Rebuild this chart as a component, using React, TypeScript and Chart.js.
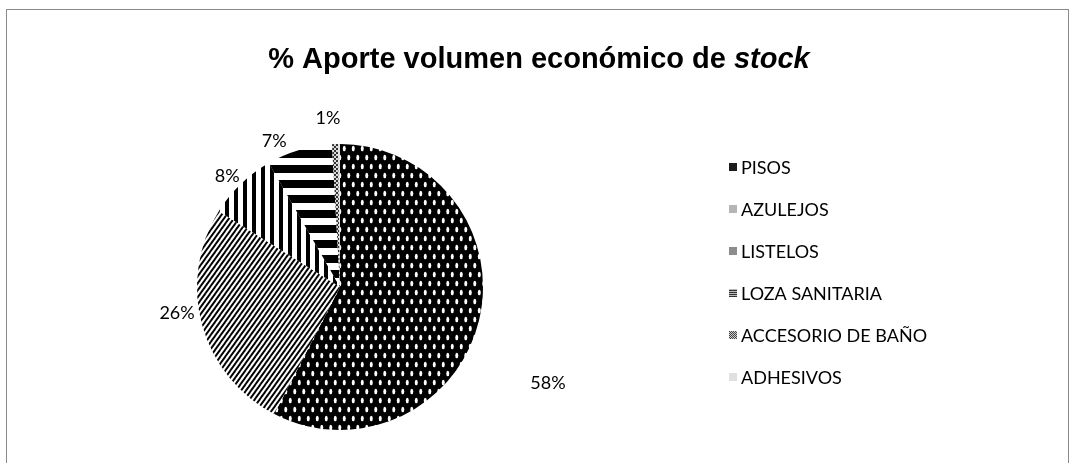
import React, { useEffect, useRef } from "react";
import { Chart, registerables } from "chart.js";

Chart.register(...registerables);

const TITLE_MAIN = "% Aporte volumen económico de ";
const TITLE_ITALIC = "stock";
const categories = ["PISOS", "AZULEJOS", "LISTELOS", "LOZA SANITARIA", "ACCESORIO DE BAÑO", "ADHESIVOS"];
const shares = [57.6, 26.3, 7.8, 7.4, 0.7, 0.2];

// label placement tweaks (extra radial distance px, angular shift deg)
const LABEL_EXTRA = [86, 22, 15, 17, 26, 20];
const LABEL_SHIFT = [11.1, 6.2, -1.6, -7.7, -2.1, 0];

const LABEL_FONT = '18px "Lato", "Liberation Sans", sans-serif';

function makePattern(w: number, h: number, draw: (c: CanvasRenderingContext2D) => void) {
  const cv = document.createElement("canvas");
  cv.width = w;
  cv.height = h;
  const c = cv.getContext("2d")!;
  draw(c);
  return c.createPattern(cv, "repeat")!;
}

function buildFills() {
  const dots = makePattern(9, 18, (c) => {
    c.fillStyle = "#000";
    c.fillRect(0, 0, 9, 18);
    c.fillStyle = "#fff";
    c.beginPath();
    c.ellipse(2.25, 4.5, 1.5, 2.8, 0, 0, Math.PI * 2);
    c.fill();
    c.beginPath();
    c.ellipse(6.75, 13.5, 1.5, 2.8, 0, 0, Math.PI * 2);
    c.fill();
  });
  const diag = makePattern(5, 7, (c) => {
    c.fillStyle = "#fff";
    c.fillRect(0, 0, 5, 7);
    c.strokeStyle = "#000";
    c.lineWidth = 1.9;
    for (const k of [-5, 0, 5]) {
      c.beginPath();
      c.moveTo(k - 1, 8.4);
      c.lineTo(k + 6, -1.4);
      c.stroke();
    }
  });
  const vert = makePattern(9, 4, (c) => {
    c.fillStyle = "#fff";
    c.fillRect(0, 0, 9, 4);
    c.fillStyle = "#000";
    c.fillRect(0, 0, 4, 4);
  });
  const horiz = makePattern(4, 15, (c) => {
    c.fillStyle = "#fff";
    c.fillRect(0, 0, 4, 15);
    c.fillStyle = "#000";
    c.fillRect(0, 0, 4, 8);
  });
  const checker = makePattern(4, 4, (c) => {
    c.fillStyle = "#d8d8d8";
    c.fillRect(0, 0, 4, 4);
    c.fillStyle = "#333";
    c.fillRect(0, 0, 2, 2);
    c.fillRect(2, 2, 2, 2);
  });
  const slice = [dots, diag, vert, horiz, checker, "#e3e3e3"];
  const legendHoriz = makePattern(4, 2, (c) => {
    c.fillStyle = "#bbb";
    c.fillRect(0, 0, 4, 2);
    c.fillStyle = "#333";
    c.fillRect(0, 0, 4, 1);
  });
  const legendChecker = makePattern(2, 2, (c) => {
    c.fillStyle = "#ccc";
    c.fillRect(0, 0, 2, 2);
    c.fillStyle = "#444";
    c.fillRect(0, 0, 1, 1);
    c.fillRect(1, 1, 1, 1);
  });
  const legend = ["#1c1c1c", "#b5b5b5", "#8d8d8d", legendHoriz, legendChecker, "#e0e0e0"];
  return { slice, legend };
}

export default function App() {
  const ref = useRef<HTMLCanvasElement | null>(null);

  useEffect(() => {
    if (!ref.current) return;
    const fills = buildFills();

    const framePlugin = {
      id: "frame",
      beforeDraw(chart: any) {
        const ctx = chart.ctx;
        ctx.save();
        ctx.fillStyle = "#fff";
        ctx.fillRect(0, 0, chart.width, chart.height);
        ctx.strokeStyle = "#8a8a8a";
        ctx.lineWidth = 1;
        ctx.strokeRect(6.5, 9.5, 1062, 520);
        ctx.restore();
      },
      afterDraw(chart: any) {
        const ctx = chart.ctx;
        ctx.save();
        // title
        const fMain = 'bold 29px "Liberation Sans", Arial, sans-serif';
        const fIt = 'italic bold 29px "Liberation Sans", Arial, sans-serif';
        ctx.font = fMain;
        const w1 = ctx.measureText(TITLE_MAIN).width;
        ctx.font = fIt;
        const w2 = ctx.measureText(TITLE_ITALIC).width;
        const x0 = 539 - (w1 + w2) / 2;
        ctx.fillStyle = "#000";
        ctx.textBaseline = "alphabetic";
        ctx.textAlign = "left";
        ctx.font = fMain;
        ctx.fillText(TITLE_MAIN, x0, 68);
        ctx.font = fIt;
        ctx.fillText(TITLE_ITALIC, x0 + w1, 68);

        // data labels
        const meta = chart.getDatasetMeta(0);
        const data = chart.data.datasets[0].data as number[];
        const total = data.reduce((a, b) => a + b, 0);
        ctx.font = LABEL_FONT;
        ctx.textAlign = "center";
        ctx.textBaseline = "middle";
        meta.data.forEach((arc: any, i: number) => {
          const pct = Math.round((data[i] / total) * 100);
          if (pct < 1) return;
          const p = arc.getProps(["x", "y", "startAngle", "endAngle", "outerRadius"], true);
          const mid = (p.startAngle + p.endAngle) / 2 + (LABEL_SHIFT[i] * Math.PI) / 180;
          const r = p.outerRadius + LABEL_EXTRA[i];
          ctx.fillText(pct + "%", p.x + Math.cos(mid) * r, p.y + Math.sin(mid) * r);
        });

        // legend
        ctx.textAlign = "left";
        chart.data.labels.forEach((lab: string, i: number) => {
          const y = 167 + i * 42;
          ctx.fillStyle = fills.legend[i];
          ctx.fillRect(729, y - 4, 8, 8);
          ctx.fillStyle = "#000";
          ctx.fillText(lab, 741, y + 1);
        });
        ctx.restore();
      },
    };

    const chart = new Chart(ref.current, {
      type: "pie",
      data: {
        labels: categories,
        datasets: [
          {
            data: shares,
            backgroundColor: fills.slice as any,
            borderWidth: 0,
          },
        ],
      },
      options: {
        responsive: false,
        animation: false,
        layout: { padding: { left: 197, top: 144, right: 596, bottom: 33 } },
        plugins: {
          legend: { display: false },
          title: { display: false },
          tooltip: { enabled: false },
        },
      },
      plugins: [framePlugin],
    });
    return () => chart.destroy();
  }, []);

  return (
    <div style={{ position: "absolute", left: 0, top: 0, width: 1079, height: 463 }}>
      <canvas ref={ref} width={1079} height={463} style={{ display: "block" }} />
    </div>
  );
}
